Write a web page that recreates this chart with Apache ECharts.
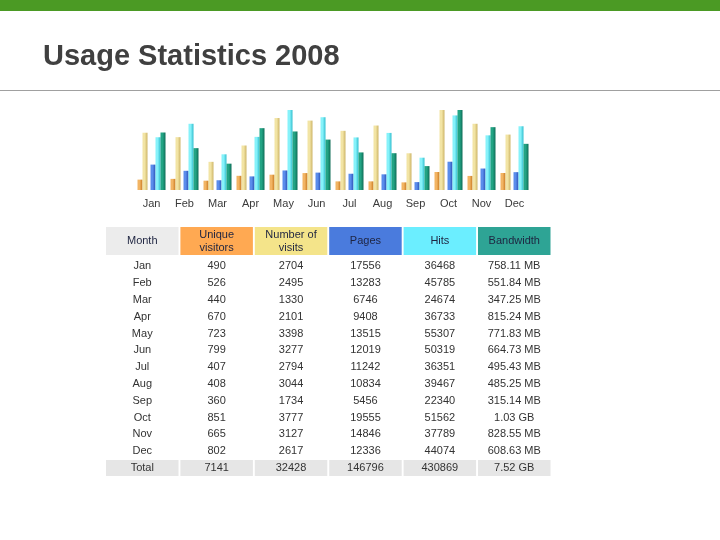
<!DOCTYPE html>
<html>
<head>
<meta charset="utf-8">
<script src="https://cdn.jsdelivr.net/npm/echarts@6/dist/echarts.min.js"></script>
<style>
html,body{margin:0;padding:0;background:#fff;}
#chart{width:720px;height:540px;}
</style>
</head>
<body>
<div id="chart"></div>
<script>
var months = ['Jan','Feb','Mar','Apr','May','Jun','Jul','Aug','Sep','Oct','Nov','Dec'];
var visitors = [490,526,440,670,723,799,407,408,360,851,665,802];
var visits = [2704,2495,1330,2101,3398,3277,2794,3044,1734,3777,3127,2617];
var pages = [17556,13283,6746,9408,13515,12019,11242,10834,5456,19555,14846,12336];
var hits = [36468,45785,24674,36733,55307,50319,36351,39467,22340,51562,37789,44074];
var bandwidthMB = [758.11,551.84,347.25,815.24,771.83,664.73,495.43,485.25,315.14,1054.72,828.55,608.63];
var bandwidthText = ['758.11 MB','551.84 MB','347.25 MB','815.24 MB','771.83 MB','664.73 MB','495.43 MB','485.25 MB','315.14 MB','1.03 GB','828.55 MB','608.63 MB'];
var headers = ['Month','Unique\nvisitors','Number of\nvisits','Pages','Hits','Bandwidth'];
var totals = ['Total','7141','32428','146796','430869','7.52 GB'];

var chart = echarts.init(document.getElementById('chart'));

function grad(a, b) {
  return new echarts.graphic.LinearGradient(0, 0, 1, 0, [
    {offset: 0, color: a}, {offset: 0.45, color: a}, {offset: 1, color: b}
  ]);
}

// table layout
var tableLeft = 106, colPitch = 74.4, colW = 72.5;
var headTop = 227, headH = 28;
var rowTop = 258, rowH = 16.8;
var headColors = ['#ECECEC','#FFA952','#F4E48A','#4A7BDD','#6BEEFF','#2EA495'];

var graphics = [];
graphics.push({type:'rect', shape:{x:0,y:0,width:720,height:11}, style:{fill:'#4B9A24'}, silent:true});
graphics.push({type:'rect', shape:{x:0,y:90,width:720,height:1}, style:{fill:'#A0A0A0'}, silent:true});

for (var c = 0; c < headers.length; c++) {
  var x = tableLeft + c * colPitch;
  graphics.push({type:'rect', shape:{x:x, y:headTop, width:colW, height:headH}, style:{fill:headColors[c]}, silent:true});
  graphics.push({type:'text', x:x + colW/2, y:headTop + headH/2, style:{
    text: headers[c], fill:'#1E2440', font:'11px "Liberation Sans", Arial, sans-serif',
    align:'center', verticalAlign:'middle', lineHeight:13}, silent:true});
}
var rows = [];
for (var i = 0; i < months.length; i++) {
  rows.push([months[i], String(visitors[i]), String(visits[i]), String(pages[i]), String(hits[i]), bandwidthText[i]]);
}
rows.push(totals);
for (var r = 0; r < rows.length; r++) {
  var yc = rowTop + r * rowH + rowH/2;
  var isTotal = (r === rows.length - 1);
  for (var c2 = 0; c2 < rows[r].length; c2++) {
    var x2 = tableLeft + c2 * colPitch;
    if (isTotal) {
      graphics.push({type:'rect', shape:{x:x2, y:yc - 8, width:colW, height:16}, style:{fill:'#E6E6E6'}, silent:true});
    }
    graphics.push({type:'text', x:x2 + colW/2, y:yc, style:{
      text: rows[r][c2], fill:'#333333', font:'11px "Liberation Sans", Arial, sans-serif',
      align:'center', verticalAlign:'middle'}, silent:true});
  }
}

var option = {
  animation: false,
  backgroundColor: '#ffffff',
  title: {
    text: 'Usage Statistics 2008', left: 43, top: 42, padding: 0,
    textStyle: {fontFamily:'"Liberation Sans", Arial, sans-serif', fontSize: 29, fontWeight:'bold', color:'#404040'}
  },
  grid: {left: 135, width: 396, top: 110, height: 80},
  xAxis: {
    type: 'category', data: months,
    axisLine: {show:false}, axisTick: {show:false},
    axisLabel: {color:'#3a3a3a', fontSize: 11, fontFamily:'"Liberation Sans", Arial, sans-serif', margin: 8}
  },
  yAxis: [
    {type:'value', min:0, max:'dataMax', show:false},
    {type:'value', min:0, max:'dataMax', show:false},
    {type:'value', min:0, max:'dataMax', show:false}
  ],
  series: [
    {type:'bar', name:'Unique visitors', yAxisIndex:0, data:visitors, barWidth:5, barGap:0, itemStyle:{color:grad('#F2B463','#C7781E')}},
    {type:'bar', name:'Number of visits', yAxisIndex:0, data:visits, barWidth:5, barGap:0, itemStyle:{color:grad('#F2E4A4','#CDB466')}},
    {type:'bar', name:'gap', yAxisIndex:0, data:[], barWidth:3, barGap:0},
    {type:'bar', name:'Pages', yAxisIndex:1, data:pages, barWidth:5, barGap:0, itemStyle:{color:grad('#5A8CEB','#2A50B4')}},
    {type:'bar', name:'Hits', yAxisIndex:1, data:hits, barWidth:5, barGap:0, itemStyle:{color:grad('#86F2FA','#30BECE')}},
    {type:'bar', name:'Bandwidth', yAxisIndex:2, data:bandwidthMB, barWidth:5, barGap:0, itemStyle:{color:grad('#22A484','#0E6C56')}}
  ],
  graphic: graphics
};
chart.setOption(option);
</script>
</body>
</html>
